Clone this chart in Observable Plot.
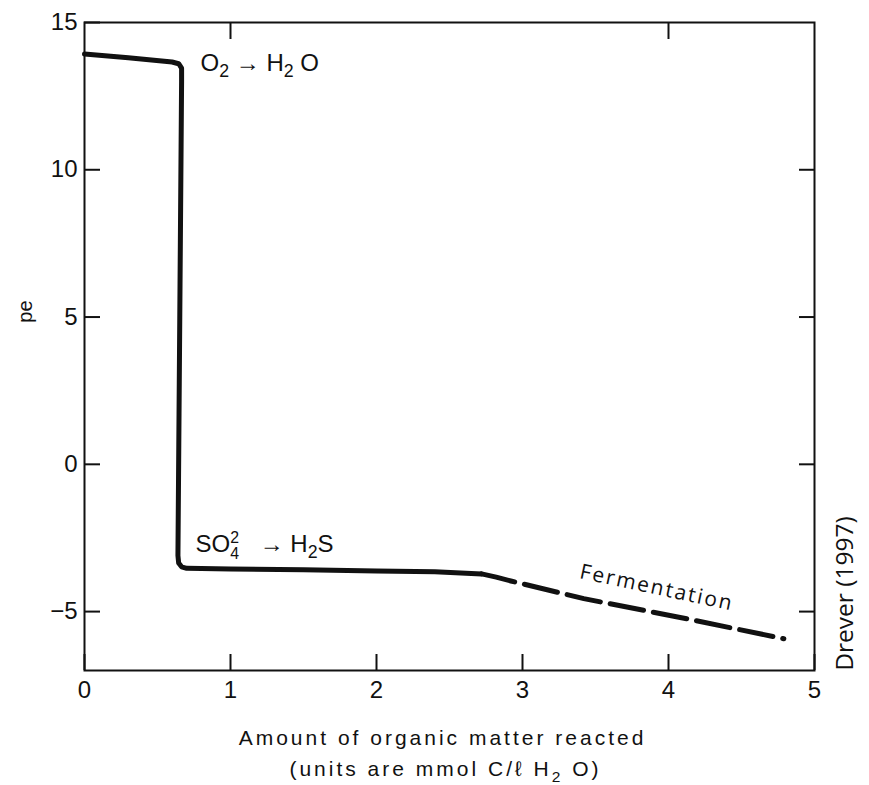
<!DOCTYPE html>
<html>
<head>
<meta charset="utf-8">
<script src="https://cdn.jsdelivr.net/npm/d3@7"></script>
<script src="https://cdn.jsdelivr.net/npm/@observablehq/plot@0.6"></script>
<style>
  body { margin: 0; background: #fff; }
  #chart svg { display: block; }
</style>
</head>
<body>
<div id="chart"></div>
<script>
// ---- data ----
// solid segment: O2 plateau, drop, SO4 plateau
const solidX = [0, 0.30, 0.60, 0.645, 0.665, 0.665, 0.64, 0.645, 0.665, 0.70, 1.0, 1.5, 2.0, 2.4, 2.72];
const solidY = [13.93, 13.80, 13.66, 13.60, 13.45, 13.0, -3.10, -3.35, -3.48, -3.53, -3.55, -3.58, -3.62, -3.65, -3.72];
// dashed segment: fermentation
const dashX = [2.72, 2.82, 2.92, 3.42, 4.08, 4.79];
const dashY = [-3.72, -3.83, -3.96, -4.56, -5.20, -5.92];

const xTicks = [0, 1, 2, 3, 4, 5];
const yTicks = [-5, 0, 5, 10, 15];
const topTicks = [1, 4];
const rightTicks = [-5, 0, 5, 10];

const xTitle = "Amount of organic matter reacted";
const xSubtitle = "(units are mmol C/ℓ H2O)";
const yTitle = "pe";
const sourceNote = "Drever (1997)";

const annotLabels = ["O2 → H2O", "SO42 → H2S"];
const annotX = [0.795, 0.76];
const annotY = [13.61, -2.70];
const fermLabel = "Fermentation";
const fermX = 3.92;
const fermY = -4.19;

// ---- build tables ----
const solid = solidX.map((x, i) => ({x, y: solidY[i]}));
const dashed = dashX.map((x, i) => ({x, y: dashY[i]}));
const annots = annotLabels.map((t, i) => ({t, x: annotX[i], y: annotY[i]}));

const sans = "'Liberation Sans', Arial, Helvetica, sans-serif";
const ink = "#111";
const intFmt = d3.format("d");

const chart = Plot.plot({
  width: 869,
  height: 785,
  marginLeft: 84,
  marginRight: 55,
  marginTop: 22,
  marginBottom: 115,
  x: {domain: [0, 5]},
  y: {domain: [-7, 15]},
  style: {fontFamily: sans, fontSize: "24px", color: ink, background: "#fff"},
  marks: [
    Plot.frame({stroke: ink, strokeWidth: 2}),
    Plot.axisX(xTicks, {anchor: "bottom", tickSize: -16, tickPadding: 26, strokeWidth: 2, stroke: ink, fill: ink, tickFormat: intFmt, label: null, fontSize: 24}),
    Plot.axisX(topTicks, {anchor: "top", tickSize: -16, tickPadding: 0, strokeWidth: 2, stroke: ink, tickFormat: () => "", label: null}),
    Plot.axisY(yTicks, {anchor: "left", tickSize: -16, tickPadding: 23, strokeWidth: 2, stroke: ink, fill: ink, tickFormat: intFmt, label: null, fontSize: 24}),
    Plot.axisY(rightTicks, {anchor: "right", tickSize: -16, tickPadding: 0, strokeWidth: 2, stroke: ink, tickFormat: () => "", label: null}),
    Plot.line(solid, {x: "x", y: "y", stroke: ink, strokeWidth: 5, strokeLinejoin: "round", strokeLinecap: "round"}),
    Plot.line(dashed, {x: "x", y: "y", stroke: ink, strokeWidth: 5, strokeDasharray: "34,10", strokeLinejoin: "round"}),
    Plot.text(annots, {x: "x", y: "y", text: "t", textAnchor: "start", lineAnchor: "middle", fontSize: 24, fill: ink}),
    Plot.text([fermLabel], {x: () => fermX, y: () => fermY, text: d => d, rotate: 12, fontSize: 21, fontFamily: "'Open Sans', sans-serif", fill: ink}),
    Plot.text([xTitle], {frameAnchor: "bottom", dx: -7, dy: 68, text: d => d, textAnchor: "middle", lineAnchor: "middle", fontSize: 21, fill: ink}),
    Plot.text([xSubtitle], {frameAnchor: "bottom", dx: -4, dy: 99, text: d => d, textAnchor: "middle", lineAnchor: "middle", fontSize: 21, fill: ink}),
    Plot.text([yTitle], {frameAnchor: "left", dx: -59, dy: -35, text: d => d, rotate: -90, textAnchor: "middle", lineAnchor: "middle", fontSize: 20, fill: ink}),
    Plot.text([sourceNote], {frameAnchor: "right", dx: 31, dy: 247, text: d => d, rotate: -90, textAnchor: "middle", lineAnchor: "middle", fontSize: 24.5, fontFamily: "'Open Sans', sans-serif", fill: ink})
  ]
});

// ---- rich text (sub/superscripts): [text, baseline offset px, dx px, relative size] ----
const rich = {
  "O2 → H2O": [["O"], ["2", 6, 0, 0.74], [" → H"], ["2", 6, 0, 0.74], [" O"]],
  "SO42 → H2S": [["SO"], ["2", -9, 0, 0.66], ["4", 7, -8.8, 0.66], [" → H", 0, 14], ["2", 6, 0, 0.74], ["S"]],
  "(units are mmol C/ℓ H2O)": [["(units are mmol C/ℓ H"], ["2", 6, 0, 0.74], [" O)"]]
};
const NS = "http://www.w3.org/2000/svg";
chart.querySelectorAll("text").forEach(t => {
  const key = t.textContent;
  if (key === xTitle || key === xSubtitle) t.setAttribute("letter-spacing", "3");
  if (key === fermLabel) t.setAttribute("letter-spacing", "2");
  if (!(key in rich)) return;
  t.textContent = "";
  let shift = 0;
  for (const [s, off, dx, size] of rich[key]) {
    const ts = document.createElementNS(NS, "tspan");
    const target = off || 0;
    if (target !== shift) ts.setAttribute("dy", target - shift);
    shift = target;
    if (size) ts.setAttribute("font-size", size + "em");
    if (dx) ts.setAttribute("dx", dx);
    ts.textContent = s;
    t.appendChild(ts);
  }
});

document.getElementById("chart").appendChild(chart);
</script>
</body>
</html>
